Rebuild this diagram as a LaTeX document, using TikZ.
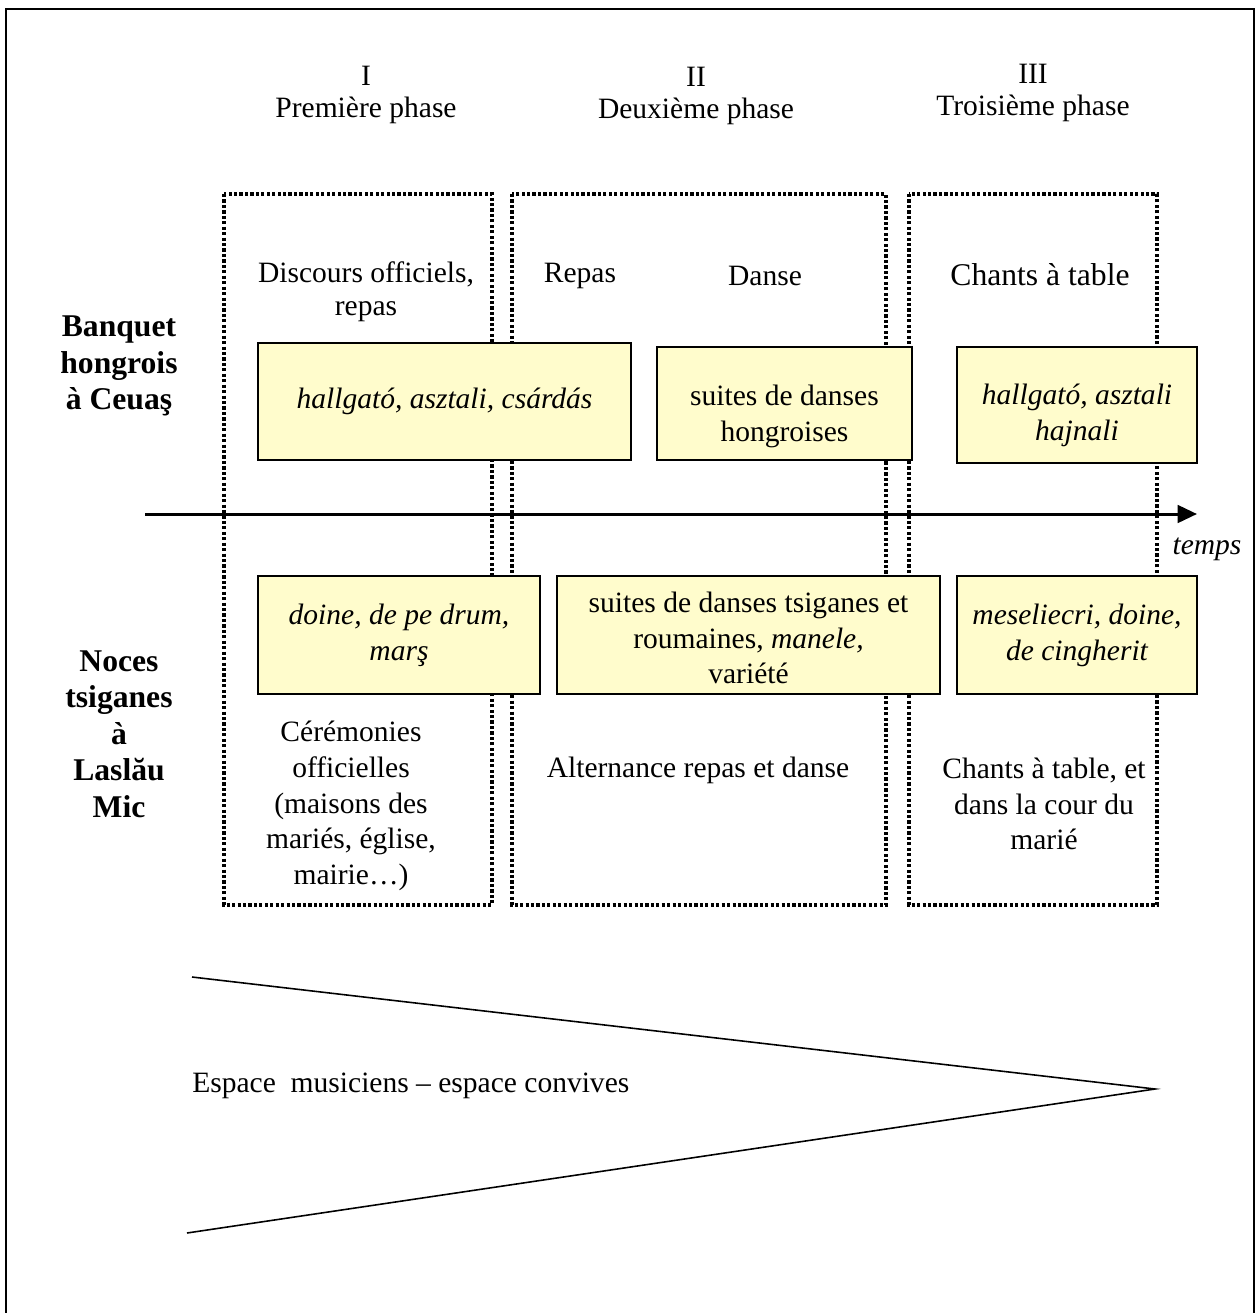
\documentclass[tikz,border=0pt]{standalone}
\usepackage{fontspec}
\setmainfont{Liberation Serif}
\usetikzlibrary{arrows.meta}

\begin{document}
\begin{tikzpicture}[x=0.2mm,y=-0.2mm,
  txt/.style={font=\fontsize{16.8}{20.4}\selectfont,align=center,inner sep=0pt},
  head/.style={font=\fontsize{16.8}{18.7}\selectfont,align=center,inner sep=0pt},
  big/.style={font=\fontsize{18}{20.6}\selectfont,align=center,inner sep=0pt},
  side/.style={font=\fontsize{18}{20.8}\selectfont\bfseries,align=center,inner sep=0pt},
  genre/.style={txt,draw,line width=0.8pt,fill=yellow!20,minimum height=23.4mm},
  dotbox/.style={line width=1.8pt,dash pattern=on 1.8pt off 1.3pt}]
  \useasboundingbox (0,0) rectangle (1255,1313);
  % frame, open at the bottom
  \draw[line width=1.2pt] (6,1313) -- (6,9) -- (1254,9) -- (1254,1313);
  % phase columns
  \draw[dotbox] (224,194) rectangle (492,905);
  \draw[dotbox] (512,194) rectangle (886,905);
  \draw[dotbox] (909,194) rectangle (1157,905);
  \node[head] (ph1) at (366,95) {I\\Première phase};
  \node[head] (ph2) at (696,96) {II\\Deuxième phase};
  \node[head] (ph3) at (1033,93) {III\\Troisième phase};
  % what happens, upper row
  \node[head] (discours) at (366,292) {Discours officiels,\\repas};
  \node[txt] (repas) at (580,276) {Repas};
  \node[txt] (danse) at (765,276) {Danse};
  \node[big] (chants) at (1040,275) {Chants à table};
  % the two events
  \node[side] (banquet) at (119,366) {Banquet\\hongrois\\à Ceuaş};
  \node[side] (noces) at (119,734) {Noces\\tsiganes\\à\\Laslău\\Mic};
  % repertoires, Ceuaş
  \node[genre,minimum width=74.6mm] (hu1) at (444.5,401.5) {\itshape hallgató, asztali, csárdás};
  \node[genre,minimum width=51mm,minimum height=22.6mm] (hu2) at (784.5,403.5) {};
  \node[txt] (hu2txt) at (hu2.center) [yshift=-2.6mm] {suites de danses\\hongroises};
  \node[genre,minimum width=48mm,minimum height=23.2mm] (hu3) at (1077,405) {};
  \node[txt,font=\fontsize{16.8}{20.4}\selectfont\itshape] (hu3txt) at (hu3.center) [yshift=-2mm] {hallgató, asztali\\hajnali};
  % time axis
  \coordinate (t0) at (145,514);
  \coordinate (t1) at (1197,514);
  \draw[line width=1.7pt,-{Triangle[length=11pt,width=10pt]}] (t0) -- (t1);
  \node[txt,font=\fontsize{16.8}{20.4}\selectfont\itshape] (temps) at (1207,549) {temps};
  % repertoires, Laslău Mic
  \node[genre,minimum width=56.4mm,minimum height=23.6mm] (ro1) at (399,635) {\itshape doine, de pe drum,\\\itshape marş};
  \node[genre,minimum width=76.6mm,minimum height=23.6mm] (ro2) at (748.5,635) {};
  \node[txt] (ro2txt) at (ro2.center) [yshift=-0.6mm] {suites de danses tsiganes et\\roumaines, \textit{manele,}\\variété};
  \node[genre,minimum width=48mm,minimum height=23.6mm] (ro3) at (1077,635) {\itshape meseliecri, doine,\\\itshape de cingherit};
  % what happens, lower row
  \node[txt] (ceremonies) at (351,806) {Cérémonies\\officielles\\(maisons des\\mariés, église,\\mairie…)};
  \node[txt] (alternance) at (698,770) {Alternance repas et danse};
  \node[txt] (cour) at (1044,804) {Chants à table, et\\dans la cour du\\marié};
  % space musicians / guests
  \coordinate (w1) at (192,977);
  \coordinate (w2) at (1155,1089);
  \coordinate (w3) at (187,1233);
  \draw[line width=0.9pt] (w1) -- (w2) -- (w3);
  \node[txt,anchor=west] (espace) at (192,1086) {Espace\ \ musiciens – espace convives};
\end{tikzpicture}
\end{document}
